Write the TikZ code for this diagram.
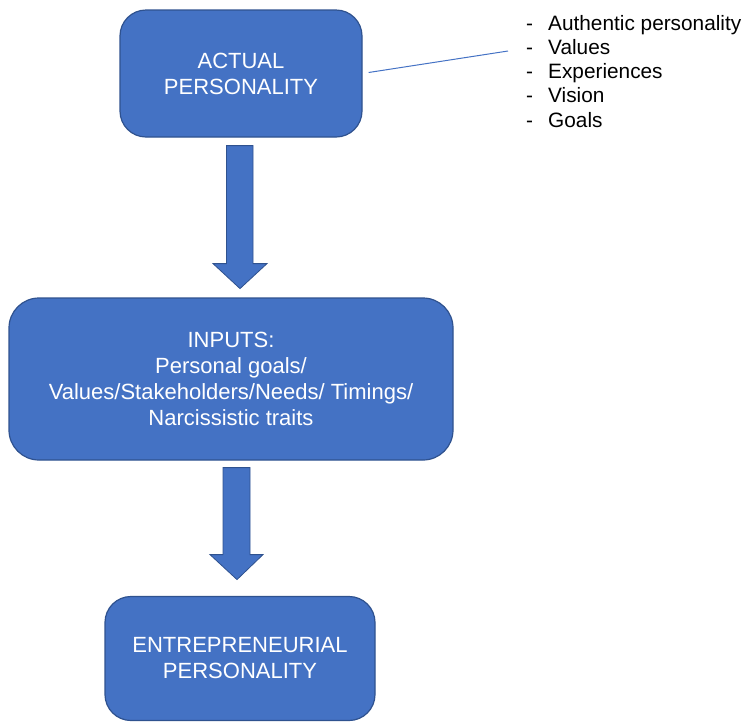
\documentclass[tikz,border=0pt]{standalone}
\usepackage{fontspec}
\setmainfont{Liberation Sans}
\usetikzlibrary{calc}
\definecolor{boxfill}{HTML}{4472C4}
\definecolor{boxedge}{HTML}{2F528F}
\definecolor{linkblue}{HTML}{4472C4}
\tikzset{
  flowbox/.style={draw=boxedge, line width=1.2pt, fill=boxfill, text=white,
    rounded corners=26pt, align=center, inner sep=0pt,
    font=\fontsize{22}{26}\selectfont},
  blockarrow/.style={draw=boxedge, line width=0.8pt, fill=boxfill},
  listtext/.style={font=\fontsize{20.8}{24.2}\selectfont, align=left, anchor=north west, inner sep=0pt}
}
\begin{document}
\begin{tikzpicture}[x=1pt,y=-1pt]
\useasboundingbox (0,0) rectangle (742,721);
\node[flowbox, minimum width=242pt, minimum height=127pt] (actual) at (241,73.5) {ACTUAL\\PERSONALITY};
\node[flowbox, minimum width=444pt, minimum height=162pt, rounded corners=30pt] (inputs) at (231,379) {INPUTS:\\Personal goals/\\Values/Stakeholders/Needs/ Timings/\\Narcissistic traits};
\node[flowbox, minimum width=270pt, minimum height=124pt] (entre) at (240,658.5) {ENTREPRENEURIAL\\PERSONALITY};
% block arrows
\draw[blockarrow] ($(actual.south)+(-14.5,8)$) -- ($(actual.south)+(12,8)$) -- ($(actual.south)+(12,126)$)
  -- ($(actual.south)+(26,126)$) -- ($(actual.south)+(-1,151)$) -- ($(actual.south)+(-28,126)$)
  -- ($(actual.south)+(-14.5,126)$) -- cycle;
\draw[blockarrow] ($(inputs.south)+(-8,7)$) -- ($(inputs.south)+(19,7)$) -- ($(inputs.south)+(19,94)$)
  -- ($(inputs.south)+(32,94)$) -- ($(inputs.south)+(6,119)$) -- ($(inputs.south)+(-21,94)$)
  -- ($(inputs.south)+(-8,94)$) -- cycle;
% list
\node[listtext] (list) at (526,15) {%
\makebox[22pt][l]{-}Authentic personality\\
\makebox[22pt][l]{-}Values\\
\makebox[22pt][l]{-}Experiences\\
\makebox[22pt][l]{-}Vision\\
\makebox[22pt][l]{-}Goals};
\coordinate (lineend) at (508,51);
\draw[linkblue, line width=1pt] ($(actual.east)+(6,-1)$) -- (lineend);
\end{tikzpicture}
\end{document}
